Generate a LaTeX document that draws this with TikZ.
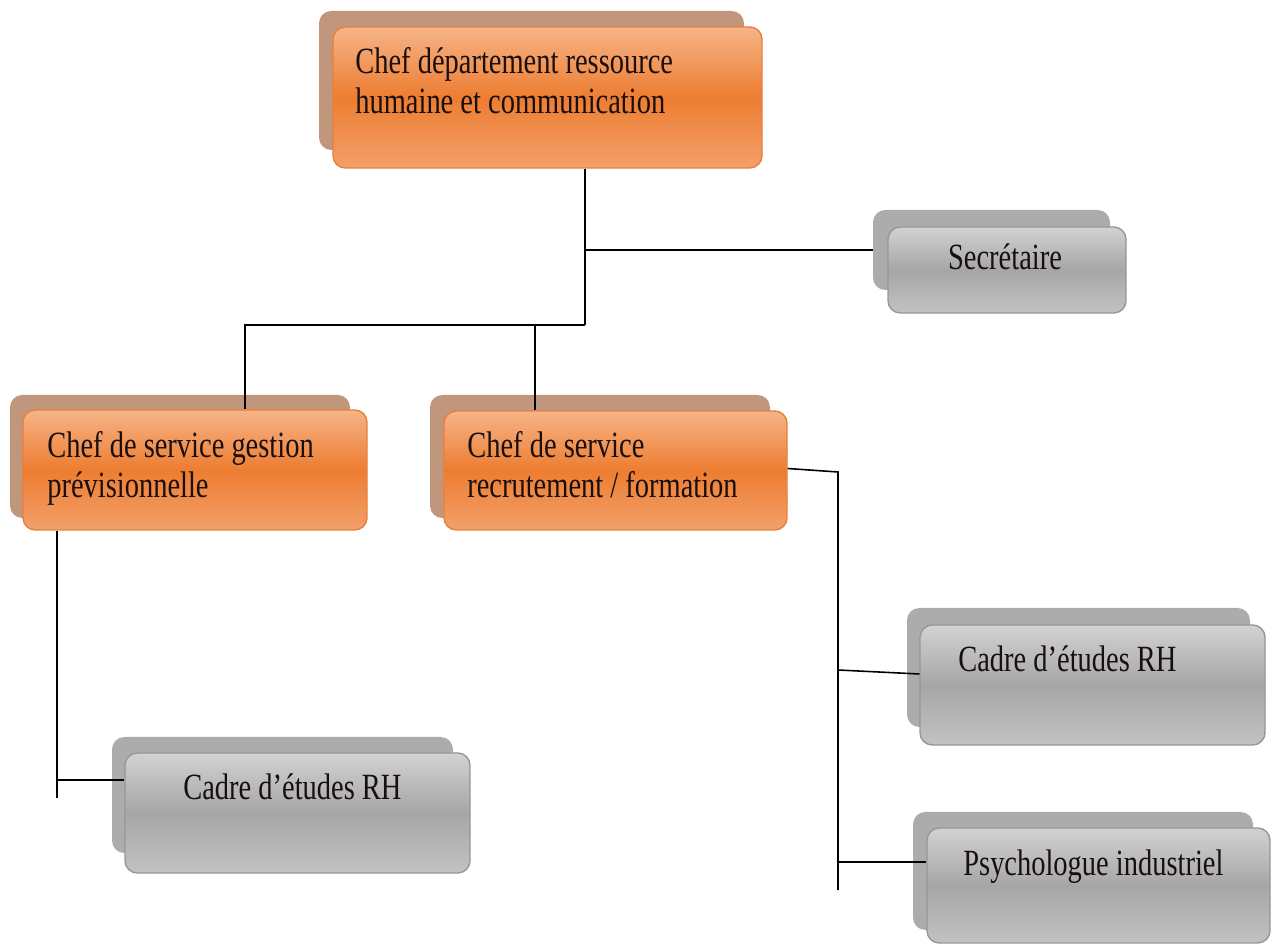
\documentclass[tikz,border=0pt]{standalone}
\usepackage{fontspec}
\setmainfont{Liberation Serif}
\usetikzlibrary{calc}
\definecolor{oshadow}{RGB}{192,150,124}
\definecolor{otop}{RGB}{246,180,136}
\definecolor{omid}{RGB}{237,125,49}
\definecolor{obot}{RGB}{243,160,108}
\definecolor{oedge}{RGB}{232,128,60}
\definecolor{gshadow}{RGB}{172,172,172}
\definecolor{gtop}{RGB}{210,210,210}
\definecolor{gmid}{RGB}{166,166,166}
\definecolor{gbot}{RGB}{194,194,194}
\definecolor{gedge}{RGB}{150,150,150}
\definecolor{txt}{RGB}{25,15,15}
\begin{document}
\begin{tikzpicture}[x=0.02cm,y=-0.02cm,
  sz/.style 2 args={minimum width=#1*0.02cm, minimum height=#2*0.02cm},
  card/.style={rectangle, rounded corners=7pt, inner sep=0pt},
  osh/.style={card, fill=oshadow},
  ofr/.style={card, draw=oedge, line width=0.8pt, top color=otop, bottom color=obot, middle color=omid},
  gsh/.style={card, fill=gshadow},
  gfr/.style={card, draw=gedge, line width=0.8pt, top color=gtop, bottom color=gbot, middle color=gmid},
  lbl/.style={inner sep=0pt, align=left, text=txt, font=\fontsize{16.2}{17.5}\selectfont, yscale=1.3},
  wire/.style={draw=black, line width=0.9pt}]
\useasboundingbox (0,0) rectangle (1276,945);

% top box
\node[osh, sz={425}{139}] (topsh) at (531.5,80.5) {};
\node[ofr, sz={429}{141}] (top) at (547.5,97.5) {};
\node[lbl, anchor=west] (topt) at (355,80.5) {Chef département ressource\\humaine et communication};

% secretary
\node[gsh, sz={237}{80}] (secsh) at (991.5,250) {};
\node[gfr, sz={238}{86}] (sec) at (1007,270) {};
\node[lbl, anchor=base] (sect) at (1005,270) {Secrétaire};

% left service
\node[osh, sz={340}{123}] (gestsh) at (180,456.5) {};
\node[ofr, sz={344}{120}] (gest) at (195,470) {};
\node[lbl, anchor=west] (gestt) at (47,468.4) {Chef de service gestion\\prévisionnelle};

% middle service
\node[osh, sz={340}{123}] (recrsh) at (600,456.5) {};
\node[ofr, sz={343}{119}] (recr) at (615.5,470.5) {};
\node[lbl, anchor=west] (recrt) at (467,464.6) {Chef de service\\recrutement / formation};

% cadre right
\node[gsh, sz={343}{119}] (cadrRsh) at (1078.5,667.5) {};
\node[gfr, sz={345}{120}] (cadrR) at (1092.5,685) {};
\node[lbl, anchor=base west] (cadrRt) at (958,672) {Cadre d’études RH};

% psychologue
\node[gsh, sz={340}{118}] (psysh) at (1083,871) {};
\node[gfr, sz={343}{115}] (psy) at (1098.5,885.5) {};
\node[lbl, anchor=base west] (psyt) at (963,876) {Psychologue industriel};

% cadre left
\node[gsh, sz={341}{116}] (cadrLsh) at (282.5,795) {};
\node[gfr, sz={345}{120}] (cadrL) at (297.5,813) {};
\node[lbl, anchor=base west] (cadrLt) at (183,800) {Cadre d’études RH};

% junctions
\coordinate (j1) at (585,325);
\coordinate (j2) at (245,325);
\coordinate (j3) at (535,325);
\coordinate (j4) at (57,798);
\coordinate (j5) at (57,780);
\coordinate (j6) at (838,472);
\coordinate (j7) at (838,890);
\coordinate (j8) at (838,670);
\coordinate (j9) at (838,862);

% connectors
\draw[wire] (j1 |- top.south) -- (j1);
\draw[wire] (secsh.west -| j1) -- (secsh.west);
\draw[wire] (j1) -- (j2) -- (j2 |- gest.north);
\draw[wire] (j3) -- (j3 |- recr.north);
\draw[wire] (j4 |- gest.south) -- (j4);
\draw[wire] (j5) -- (j5 -| cadrL.west);
\draw[wire] ($(recr.east)+(0,-2)$) -- (j6) -- (j7);
\draw[wire] (j8) -- ($(cadrR.west)+(0,-11)$);
\draw[wire, line width=1.5pt] (j9) -- (j9 -| psy.west);
\end{tikzpicture}
\end{document}
